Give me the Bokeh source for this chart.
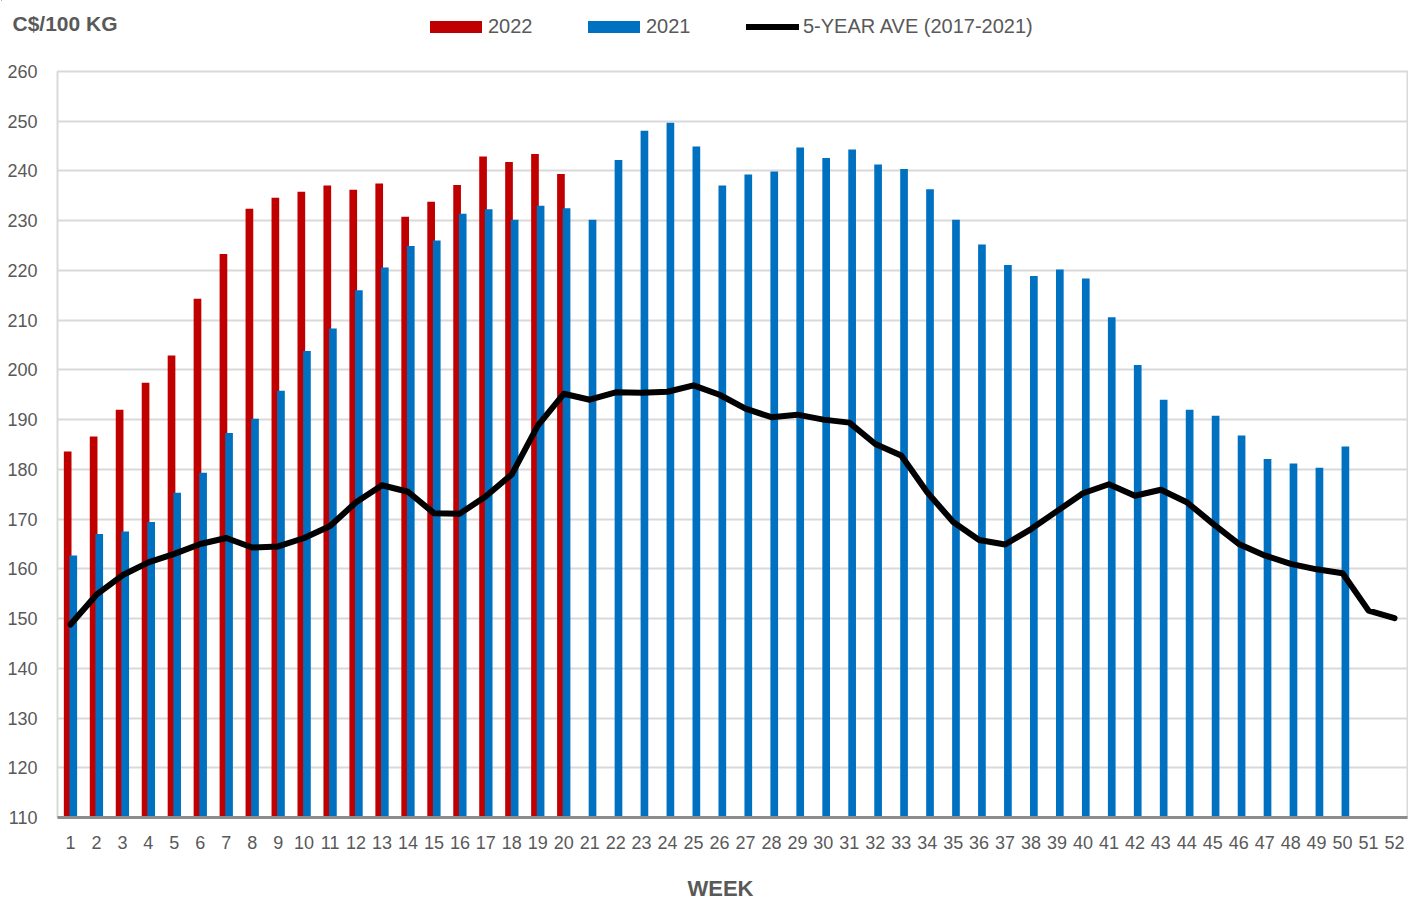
from bokeh.plotting import figure
from bokeh.layouts import column
from bokeh.models import (ColumnDataSource, Range1d, FixedTicker, Legend, LegendItem, Label)
from bokeh.transform import dodge
from bokeh.embed import file_html
from bokeh.resources import INLINE

# ---- data ----
weeks_2022 = list(range(1, 21))
price_2022 = [183.6, 186.6, 192.0, 197.4, 202.9, 214.3, 223.3, 232.4, 234.6, 235.8,
              237.1, 236.2, 237.5, 230.8, 233.8, 237.2, 242.9, 241.8, 243.4, 239.4]

weeks_2021 = list(range(1, 51))
price_2021 = [162.7, 167.0, 167.5, 169.4, 175.3, 179.3, 187.3, 190.2, 195.8, 203.8,
              208.3, 216.0, 220.6, 224.9, 226.0, 231.4, 232.3, 230.2, 233.0, 232.5,
              230.2, 242.2, 248.1, 249.7, 244.9, 237.1, 239.3, 239.9, 244.7, 242.6,
              244.3, 241.3, 240.4, 236.3, 230.2, 225.2, 221.1, 218.9, 220.2, 218.4,
              210.6, 201.0, 194.0, 192.0, 190.8, 186.8, 182.1, 181.2, 180.3, 184.6]

weeks_avg = list(range(1, 53))
price_avg = [148.8, 154.8, 158.7, 161.3, 163.0, 165.0, 166.2, 164.3, 164.5, 166.2,
             168.6, 173.4, 176.8, 175.5, 171.2, 171.1, 174.6, 179.0, 188.8, 195.2,
             194.0, 195.5, 195.4, 195.6, 196.9, 195.0, 192.2, 190.5, 191.0, 190.0,
             189.4, 185.1, 182.8, 175.4, 169.4, 165.8, 164.9, 168.0, 171.6, 175.2,
             177.0, 174.7, 175.9, 173.4, 169.1, 165.0, 162.7, 161.0, 159.9, 159.1,
             151.6, 150.1]

y_ticks = list(range(110, 261, 10))
x_ticks = weeks_avg

RED = "#C00000"
BLUE = "#0070C0"
TXT = "#595959"
FONT = "Liberation Sans"
W = 1408
HEAD_H = 50
FOOT_H = 40
MAIN_H = 903 - HEAD_H - FOOT_H


def blank_fig(h):
    f = figure(width=W, height=h, output_backend="svg", toolbar_location=None,
               x_range=Range1d(0, W), y_range=Range1d(0, h),
               x_axis_location=None, y_axis_location=None,
               min_border_left=0, min_border_right=0, min_border_top=0, min_border_bottom=0)
    f.grid.grid_line_color = None
    f.outline_line_color = None
    f.frame_align = False
    return f


# ---- header (units title + legend) ----
ph = blank_fig(HEAD_H)
ph.add_layout(Label(x=12, y=HEAD_H - 23, text="C$/100 KG", text_font=FONT,
                    text_font_style="bold", text_font_size="21px", text_color=TXT,
                    text_baseline="middle"))

# legend proxies (their data lies outside the header's visible range)
h22 = ph.vbar(x=weeks_2022[:1], top=price_2022[:1], bottom=price_2022[:1], width=1,
              fill_color=RED, line_color=None)
h21 = ph.vbar(x=weeks_2021[:1], top=price_2021[:1], bottom=price_2021[:1], width=1,
              fill_color=BLUE, line_color=None)
hav = ph.line(x=weeks_avg, y=price_avg, line_color="black", line_width=6, line_cap="round")


def make_legend(label, rend, vx, gw, gh, standoff):
    lg = Legend(items=[LegendItem(label=label, renderers=[rend])], location=(vx, 12),
                orientation="horizontal", glyph_width=gw, glyph_height=gh,
                label_standoff=standoff, padding=0, margin=0, border_line_color=None,
                background_fill_alpha=0, label_text_font=FONT,
                label_text_font_size="20px", label_text_color=TXT)
    ph.add_layout(lg, "center")


make_legend("2022", h22, 423, 65, 15, 0)
make_legend("2021", h21, 581, 65, 15, 0)
make_legend("5-YEAR AVE (2017-2021)", hav, 746, 53, 15, 4)

# ---- main chart ----
src22 = ColumnDataSource(dict(week=weeks_2022, price=price_2022))
src21 = ColumnDataSource(dict(week=weeks_2021, price=price_2021))
srcav = ColumnDataSource(dict(week=weeks_avg, price=price_avg))

p = figure(width=W, height=MAIN_H, output_backend="svg", toolbar_location=None,
           x_range=Range1d(0.5, 52.5), y_range=Range1d(110, 260),
           min_border_left=57, min_border_right=1, min_border_top=71 - HEAD_H,
           min_border_bottom=MAIN_H - (71 - HEAD_H) - 746)
p.frame_align = False
p.outline_line_color = "#D9D9D9"
p.outline_line_width = 2

p.vbar(x=dodge("week", -0.108, range=p.x_range), top="price", bottom=110, width=0.296,
       source=src22, fill_color=RED, line_color=None)
p.vbar(x=dodge("week", 0.108, range=p.x_range), top="price", bottom=110, width=0.296,
       source=src21, fill_color=BLUE, line_color=None)
p.line(x="week", y="price", source=srcav, line_color="black", line_width=6,
       line_join="round", line_cap="round")

p.xaxis.ticker = FixedTicker(ticks=x_ticks)
p.yaxis.ticker = FixedTicker(ticks=y_ticks)
p.xgrid.grid_line_color = None
p.ygrid.grid_line_color = "#D9D9D9"
p.ygrid.grid_line_width = 2

for ax in (p.xaxis[0], p.yaxis[0]):
    ax.major_tick_line_color = None
    ax.minor_tick_line_color = None
    ax.major_tick_out = 0
    ax.major_tick_in = 0
    ax.major_label_text_font = FONT
    ax.major_label_text_font_size = "18px"
    ax.major_label_text_color = TXT

p.yaxis.axis_line_color = None
p.yaxis.major_label_standoff = 20
p.xaxis.axis_line_color = "#8C8C8C"
p.xaxis.axis_line_width = 3
p.xaxis.major_label_standoff = 18

# ---- footer (axis title) ----
pf = blank_fig(FOOT_H)
pf.add_layout(Label(x=720, y=15, text="WEEK", text_font=FONT,
                    text_font_style="bold", text_font_size="22px", text_color=TXT,
                    text_align="center", text_baseline="middle"))

layout = column(ph, p, pf, spacing=0)
open("out.html", "w").write(file_html(layout, INLINE))
